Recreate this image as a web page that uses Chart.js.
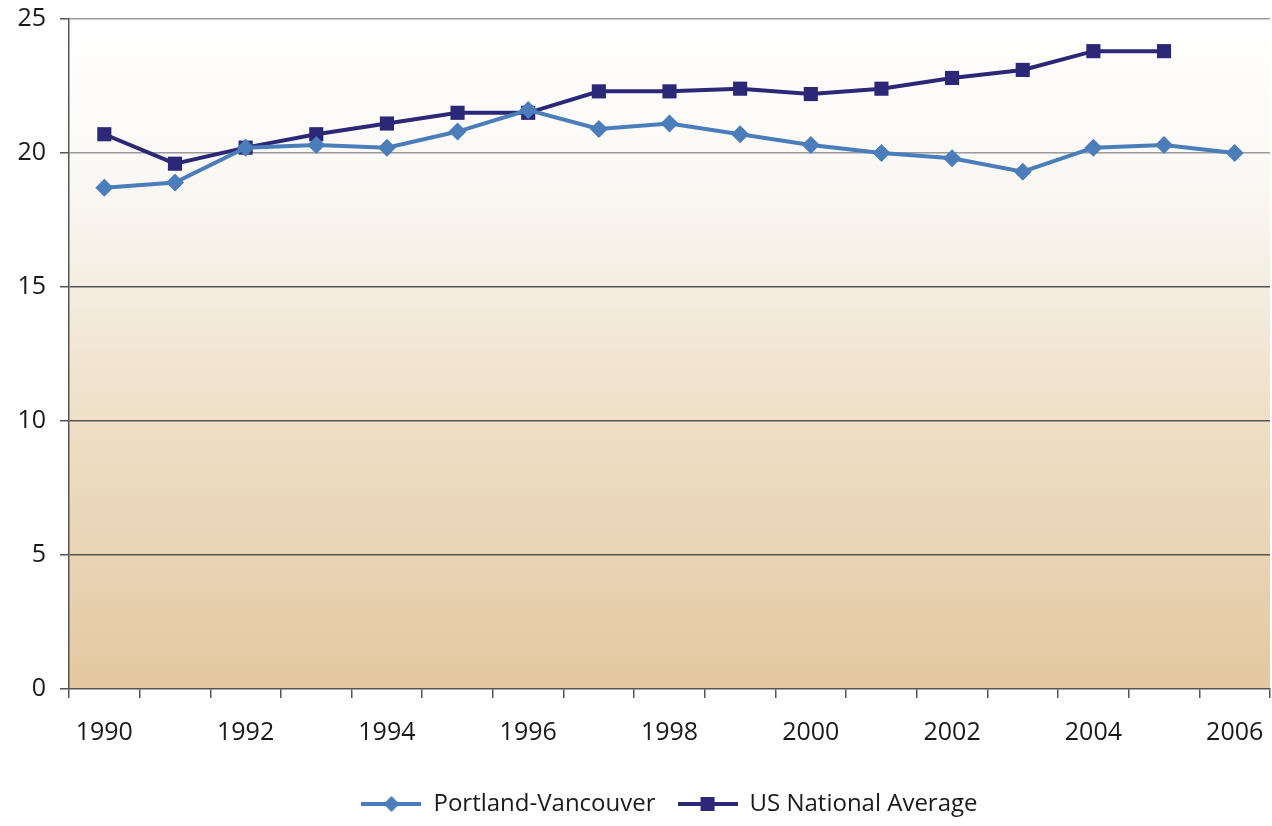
<!DOCTYPE html>
<html>
<head>
<meta charset="utf-8">
<script src="https://cdn.jsdelivr.net/npm/chart.js@4.4.1/dist/chart.umd.min.js"></script>
<style>
  html, body { margin: 0; padding: 0; background: #fff; }
  #wrap { width: 1272px; height: 826px; }
</style>
</head>
<body>
<div id="wrap"><canvas id="chart" width="1272" height="826"></canvas></div>
<script>
// Chart data
const years = ['1990', '1991', '1992', '1993', '1994', '1995', '1996', '1997', '1998',
  '1999', '2000', '2001', '2002', '2003', '2004', '2005', '2006'];
const portland = [18.7, 18.9, 20.2, 20.3, 20.2, 20.8, 21.6, 20.9, 21.1,
  20.7, 20.3, 20.0, 19.8, 19.3, 20.2, 20.3, 20.0];
const usAverage = [20.7, 19.6, 20.2, 20.7, 21.1, 21.5, 21.5, 22.3, 22.3,
  22.4, 22.2, 22.4, 22.8, 23.1, 23.8, 23.8, null];
const yTicks = [0, 5, 10, 15, 20, 25];

const lightBlue = '#4a7db9';
const navy = '#2b2977';
const font = "'Open Sans', 'Liberation Sans', sans-serif";

// legend swatch: line with marker in the middle
function swatch(color, shape) {
  const c = document.createElement('canvas');
  c.width = 60; c.height = 18;
  const g = c.getContext('2d');
  g.strokeStyle = color; g.lineWidth = 4;
  g.beginPath(); g.moveTo(0, 9); g.lineTo(60, 9); g.stroke();
  g.fillStyle = color;
  if (shape === 'diamond') {
    g.beginPath(); g.moveTo(30, 1); g.lineTo(38, 9); g.lineTo(30, 17); g.lineTo(22, 9); g.closePath(); g.fill();
  } else {
    g.fillRect(23, 2, 14, 14);
  }
  return c;
}

// gradient background behind the plot area
const bgPlugin = {
  id: 'bg',
  beforeDraw(chart) {
    const { ctx, chartArea: a } = chart;
    const grad = ctx.createLinearGradient(0, a.top, 0, a.bottom);
    grad.addColorStop(0, '#ffffff');
    grad.addColorStop(0.25, '#faf8f4');
    grad.addColorStop(0.55, '#f0e2cc');
    grad.addColorStop(1, '#e3c8a0');
    ctx.save();
    ctx.fillStyle = grad;
    ctx.fillRect(a.left, a.top, a.right - a.left, a.bottom - a.top);
    ctx.restore();
  }
};

new Chart(document.getElementById('chart'), {
  type: 'line',
  data: {
    labels: years,
    datasets: [
      {
        label: 'Portland-Vancouver',
        data: portland,
        borderColor: lightBlue,
        backgroundColor: lightBlue,
        borderWidth: 4,
        pointStyle: 'rectRot',
        pointRadius: 9,
        pointBorderWidth: 0,
        tension: 0
      },
      {
        label: 'US National Average',
        data: usAverage,
        borderColor: navy,
        backgroundColor: navy,
        borderWidth: 4,
        pointStyle: 'rect',
        pointRadius: 10,
        pointBorderWidth: 0,
        tension: 0
      }
    ]
  },
  options: {
    responsive: false,
    animation: false,
    layout: { autoPadding: false, padding: { top: 19, right: 2, left: 0, bottom: 0 } },
    plugins: {
      tooltip: { enabled: false },
      legend: {
        position: 'bottom',
        fullSize: false,
        labels: {
          usePointStyle: true,
          pointStyleWidth: 60,
          color: '#1a1a1a',
          font: { family: font, size: 24 },
          padding: 22,
          generateLabels(chart) {
            return chart.data.datasets.map((ds, i) => ({
              text: ds.label,
              pointStyle: swatch(ds.borderColor, i === 0 ? 'diamond' : 'square'),
              fontColor: '#1a1a1a',
              datasetIndex: i,
              lineWidth: 0,
              strokeStyle: 'transparent',
              fillStyle: 'transparent'
            }));
          }
        }
      }
    },
    scales: {
      x: {
        offset: true,
        afterFit(scale) { scale.height = 81; },
        grid: {
          offset: true,
          drawOnChartArea: false,
          drawTicks: true,
          tickLength: 9,
          color: '#555',
          lineWidth: 1.5
        },
        border: { color: '#555', width: 1.5 },
        ticks: {
          autoSkip: false,
          maxRotation: 0,
          color: '#1a1a1a',
          padding: 0,
          // tall line box pushes the labels down
          font: { family: font, size: 25, lineHeight: 2.8 },
          callback(v, i) { return i % 2 === 0 ? years[i] : ''; }
        }
      },
      y: {
        min: 0,
        max: 25,
        afterFit(scale) {
          scale.width = 69;
          scale.paddingTop = 0;
          scale.paddingBottom = 0;
        },
        afterBuildTicks(scale) { scale.ticks = yTicks.map(v => ({ value: v })); },
        grid: {
          color: ctx => ctx.tick && ctx.tick.value === 0 ? 'rgba(0,0,0,0)' : (ctx.tick && ctx.tick.value >= 20 ? '#9a9a9a' : '#555'),
          lineWidth: 1.5,
          tickLength: 9,
          tickColor: '#555'
        },
        border: { color: '#555', width: 1.5 },
        ticks: {
          color: '#1a1a1a',
          padding: 14,
          font: { family: font, size: 25 }
        }
      }
    }
  },
  plugins: [bgPlugin]
});
</script>
</body>
</html>
